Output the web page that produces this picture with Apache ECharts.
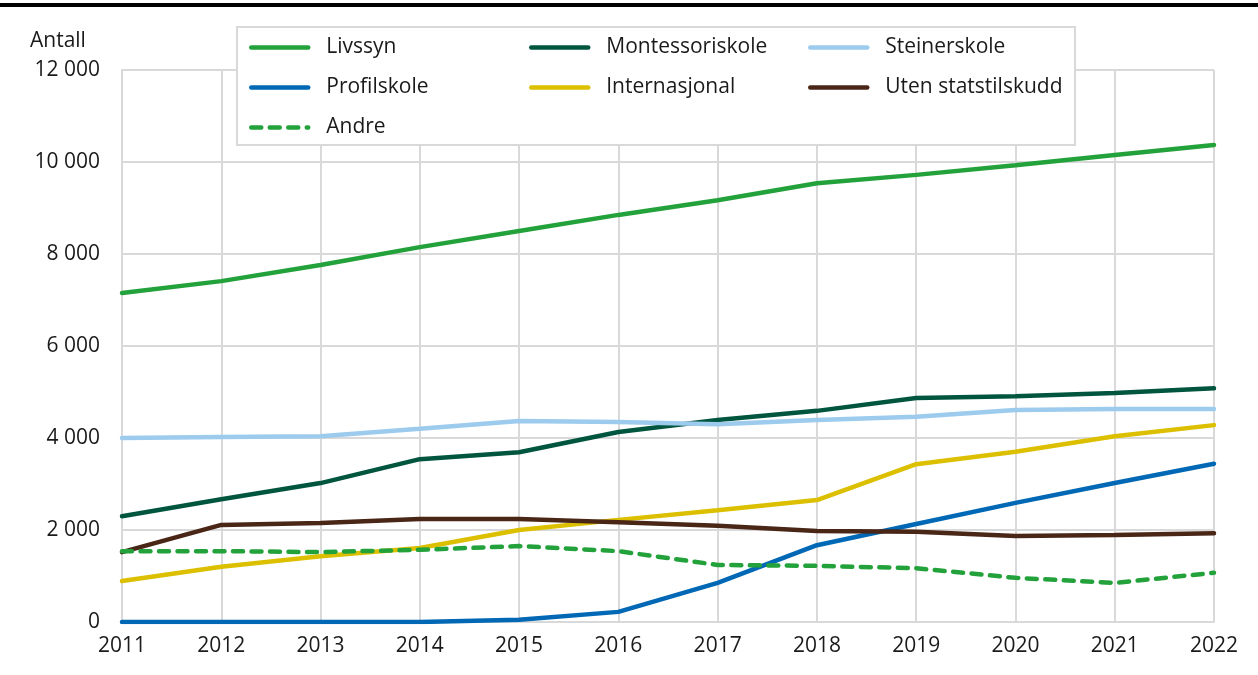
<!DOCTYPE html>
<html><head><meta charset="utf-8">
<script src="https://cdn.jsdelivr.net/npm/echarts@6/dist/echarts.min.js"></script>
<style>html,body{margin:0;padding:0;background:#fff}#c{width:1258px;height:675px}</style>
</head><body><div id="c"></div>
<script>
const years = ['2011','2012','2013','2014','2015','2016','2017','2018','2019','2020','2021','2022'];
const livssyn = [7150, 7410, 7760, 8150, 8500, 8850, 9170, 9540, 9720, 9930, 10150, 10370];
const montessori = [2300, 2670, 3020, 3540, 3690, 4130, 4390, 4590, 4870, 4910, 4980, 5080];
const steiner = [4000, 4020, 4040, 4200, 4370, 4350, 4300, 4390, 4460, 4610, 4630, 4630];
const profil = [0, 0, 0, 0, 50, 220, 850, 1670, 2130, 2590, 3020, 3440];
const internasjonal = [890, 1200, 1430, 1610, 2000, 2220, 2430, 2650, 3430, 3700, 4040, 4280];
const uten = [1520, 2110, 2150, 2240, 2240, 2170, 2090, 1980, 1960, 1870, 1890, 1930];
const andre = [1540, 1540, 1520, 1570, 1650, 1540, 1240, 1220, 1170, 960, 850, 1070];
const yTicks = [0, 2000, 4000, 6000, 8000, 10000, 12000];

const FONT = '"Open Sans", sans-serif';
const FS = 21;
const chart = echarts.init(document.getElementById('c'), null, {renderer: 'canvas'});
function mk(name, data, color, dashed) {
  return {name, type: 'line', data, symbol: 'none', smooth: false,
    lineStyle: {color, width: 4.5, type: dashed ? [10, 8.5] : 'solid', cap: 'round'},
    itemStyle: {color}, emphasis: {disabled: true}};
}
const legendBase = {orient: 'vertical', itemWidth: 57, itemHeight: 10, itemGap: 19, z: 10,
  itemStyle: {opacity: 0}, lineStyle: {width: 4.5},
  textStyle: {fontFamily: FONT, fontSize: FS, color: '#1a1a1a', padding: [0,0,0,13]}, selectedMode: false};
chart.setOption({
  animation: false,
  grid: {left: 122, right: 44, top: 70, bottom: 53},
  graphic: [
    {type: 'rect', shape: {x: 0, y: 3, width: 1258, height: 4}, style: {fill: '#000'}},
    {type: 'text', left: 30, top: 31, style: {text: 'Antall', fontFamily: FONT, fontSize: FS, fill: '#1a1a1a'}},
    {type: 'rect', z: 3, shape: {x: 237, y: 27, width: 838, height: 118}, style: {fill: '#fff', stroke: '#d9d9d9', lineWidth: 2}}
  ],
  legend: [
    Object.assign({left: 244, top: 32, data: ['Livssyn', 'Profilskole', 'Andre']}, legendBase),
    Object.assign({left: 524, top: 32, data: ['Montessoriskole', 'Internasjonal']}, legendBase),
    Object.assign({left: 803, top: 32, data: ['Steinerskole', 'Uten statstilskudd']}, legendBase)
  ],
  xAxis: {type: 'category', data: years, boundaryGap: false,
    axisLine: {show: true, lineStyle: {color: '#d9d9d9', width: 2}}, axisTick: {show: false},
    splitLine: {show: true, lineStyle: {color: '#d9d9d9', width: 2}},
    axisLabel: {fontFamily: FONT, fontSize: FS, color: '#1a1a1a', margin: 14}},
  yAxis: {type: 'value', min: 0, max: 12000, interval: 2000,
    axisLine: {show: true, lineStyle: {color: '#d9d9d9', width: 2}}, axisTick: {show: false},
    splitLine: {show: true, lineStyle: {color: '#d9d9d9', width: 2}},
    axisLabel: {fontFamily: FONT, fontSize: FS, color: '#1a1a1a', margin: 22,
      formatter: v => yTicks.includes(v) ? String(v).replace(/\B(?=(\d{3})+(?!\d))/g, ' ') : ''}},
  series: [
    mk('Livssyn', livssyn, '#23a23b'),
    mk('Montessoriskole', montessori, '#00553f'),
    mk('Steinerskole', steiner, '#9ccbee'),
    mk('Profilskole', profil, '#0068b4'),
    mk('Internasjonal', internasjonal, '#dcc000'),
    mk('Uten statstilskudd', uten, '#4a2617'),
    mk('Andre', andre, '#23a23b', true)
  ]
});
</script></body></html>
